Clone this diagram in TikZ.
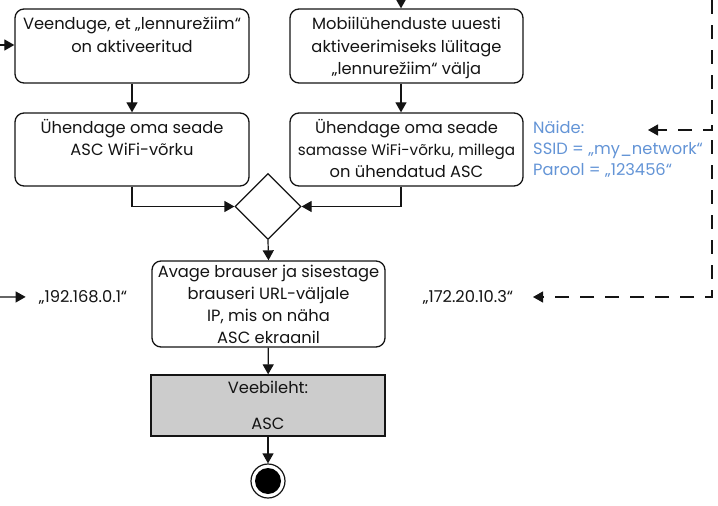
\documentclass[tikz,border=0pt]{standalone}
\usepackage{fontspec}
\setmainfont{Poppins}
\usetikzlibrary{arrows.meta,shapes.geometric,calc}
\definecolor{blu}{RGB}{99,148,214}
\definecolor{ink}{RGB}{20,20,20}
\definecolor{gry}{RGB}{204,204,204}
\begin{document}
\begin{tikzpicture}[x=1pt,y=-1pt,
  box/.style={draw=ink, line width=1.3pt, rounded corners=9pt, inner sep=0pt},
  txt/.style={font=\fontsize{16.3}{22}\selectfont, align=center, anchor=base, inner sep=0pt, text=ink},
  bluetxt/.style={font=\fontsize{16.3}{21}\selectfont, align=left, anchor=base west, inner sep=0pt, text=blu},
  arr/.style={draw=ink, line width=1.2pt, -{Triangle[length=10pt,width=11pt]}},
  darr/.style={arr, dash pattern=on 14pt off 11pt}]
\useasboundingbox (0,0) rectangle (718,506);

% boxes
\node[box, minimum width=234pt, minimum height=74pt] (A) at (132,46) {};
\node[box, minimum width=233pt, minimum height=74pt] (B) at (406.5,46) {};
\node[box, minimum width=234pt, minimum height=73pt] (C) at (132,149.5) {};
\node[box, minimum width=233pt, minimum height=73pt] (D) at (406.5,149.5) {};
\node[draw=ink, line width=1.2pt, diamond, minimum width=66pt, minimum height=66pt, inner sep=0pt] (G) at (268,206.5) {};
\node[box, minimum width=233pt, minimum height=86pt] (E) at (268.5,304) {};
\node[draw=ink, line width=1.3pt, fill=gry, minimum width=234pt, minimum height=61pt, inner sep=0pt] (F) at (268,405.5) {};
\node[circle, draw=ink, line width=1.2pt, fill=white, minimum size=34pt, inner sep=0pt] (End) at (268,481) {};
\node[circle, fill=black, minimum size=26pt, inner sep=0pt] (EndDot) at (End) {};

% texts (anchored at the baseline of their last line)
\node[txt] (At) at (132,52) {Veenduge, et „lennurežiim“\\on aktiveeritud};
\node[txt] (Bt) at (406.5,74) {Mobiilühenduste uuesti\\aktiveerimiseks lülitage\\„lennurežiim“ välja};
\node[txt] (Ct) at (132,155) {Ühendage oma seade\\ASC WiFi-võrku};
\node[txt] (Dt) at (406.5,177) {Ühendage oma seade\\{\fontsize{15.2}{22}\selectfont samasse WiFi-võrku, millega}\\on ühendatud ASC};
\node[txt] (Et) at (268.5,343) {Avage brauser ja sisestage\\brauseri URL-väljale\\IP, mis on näha\\ASC ekraanil};
\node[txt] (Ft) at (268,429) {Veebileht:\\[14pt]ASC};
\node[txt] (ipL) at (83,302) {„192.168.0.1“};
\node[txt] (ipR) at (468,302) {„172.20.10.3“};
\node[bluetxt] (ex) at (533,175) {Näide:\\SSID = „my\_network“\\Parool = „123456“};

% free ends
\coordinate (colR) at (401,0);
\coordinate (topB) at (401,0);
\coordinate (inA) at (0,45);
\coordinate (inL) at (0,297);
\coordinate (topR) at (712,0);
\coordinate (exTip) at (648,130);
\coordinate (dR) at (712,140);
\coordinate (ipRtip) at (533,297);

% connectors
\draw[arr] (topB) -- (B.north -| colR);
\draw[arr] (inA) -- (inA -| A.west);
\draw[arr] (A) -- (C);
\draw[arr] (B.south -| colR) -- (D.north -| colR);
\draw[arr] (C.south) |- (G.west);
\draw[arr] (D.south -| colR) |- (G.east);
\draw[arr] (G.south) -- (E.north);
\draw[arr] (E) -- (F);
\draw[arr] (F) -- (End);
\draw[arr, shorten >=13pt] (inL) -- (ipL.west);
\draw[darr] (topR) |- (exTip);
\draw[darr] (dR) |- (ipRtip);
\end{tikzpicture}
\end{document}
